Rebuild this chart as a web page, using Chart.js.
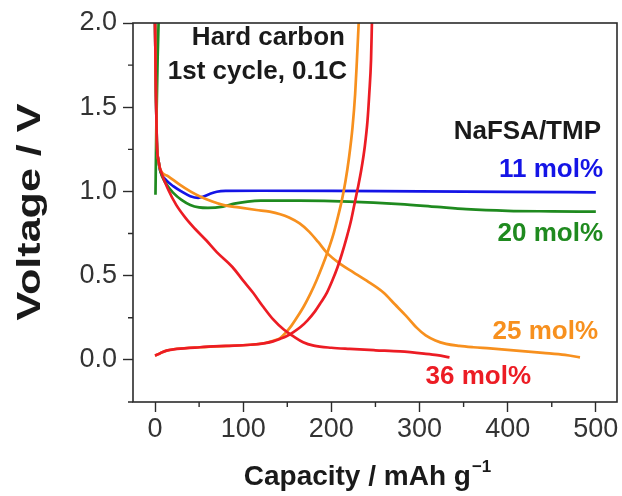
<!DOCTYPE html>
<html><head><meta charset="utf-8">
<script src="https://cdn.jsdelivr.net/npm/chart.js@4.4.1/dist/chart.umd.min.js"></script>
<style>html,body{margin:0;padding:0;background:#fff}canvas{display:block}</style>
</head><body>
<canvas id="c" width="622" height="496"></canvas>
<script>
// ---- tick labels ----
const xTicks = [0, 100, 200, 300, 400, 500];
const yTicks = [0.0, 0.5, 1.0, 1.5, 2.0];
const xMinor = [50, 150, 250, 350, 450];
const yMinor = [-0.25, 0.25, 0.75, 1.25, 1.75];

// ---- series: capacity (mAh/g) and voltage (V) ----
// 36 mol% discharge
const cap36Dis = [0, 1, 2, 4, 8, 15, 24, 35, 45, 58, 70, 88, 100, 111, 122, 134, 146, 157, 168, 180, 200, 221, 250, 278, 305, 320, 334];
const v36Dis   = [2.0, 1.6, 1.3, 1.18, 1.10, 1.01, 0.92, 0.84, 0.78, 0.71, 0.64, 0.55, 0.47, 0.40, 0.32, 0.24, 0.18, 0.14, 0.105, 0.085, 0.072, 0.065, 0.057, 0.05, 0.037, 0.028, 0.015];
// 36 mol% charge
const cap36Chg = [0, 6, 13, 25, 51, 80, 108, 125, 134, 142, 149, 157, 165, 173, 181, 188, 195, 201, 207, 212, 217, 222, 226, 230, 234, 238, 241, 243, 245, 246];
const v36Chg   = [0.025, 0.04, 0.055, 0.065, 0.075, 0.083, 0.09, 0.1, 0.11, 0.125, 0.14, 0.165, 0.195, 0.235, 0.285, 0.34, 0.40, 0.47, 0.55, 0.63, 0.72, 0.82, 0.92, 1.02, 1.13, 1.27, 1.42, 1.58, 1.78, 2.0];
// 25 mol% discharge
const cap25Dis = [0, 1, 2, 4, 6, 15, 28, 40, 51, 65, 77, 95, 115, 130, 142, 152, 164, 175, 185, 195, 210, 225, 240, 259, 272, 285, 297, 307, 318, 330, 345, 361, 380, 410, 440, 465, 482];
const v25Dis   = [2.0, 1.6, 1.3, 1.18, 1.13, 1.09, 1.04, 1.0, 0.97, 0.94, 0.92, 0.905, 0.89, 0.88, 0.865, 0.845, 0.81, 0.76, 0.70, 0.635, 0.57, 0.52, 0.47, 0.40, 0.33, 0.26, 0.19, 0.145, 0.115, 0.095, 0.083, 0.075, 0.068, 0.055, 0.042, 0.03, 0.015];
// 25 mol% charge
const cap25Chg = [0, 13, 51, 108, 125, 135, 142, 148, 155, 162, 169, 176, 183, 190, 196, 202, 207, 212, 216, 220, 224, 227, 229, 231];
const v25Chg   = [0.025, 0.055, 0.075, 0.09, 0.1, 0.115, 0.13, 0.16, 0.205, 0.26, 0.32, 0.39, 0.47, 0.56, 0.645, 0.74, 0.84, 0.95, 1.06, 1.2, 1.38, 1.58, 1.78, 2.0];
// 20 mol% discharge
const cap20Dis = [0, 1, 2, 4, 6, 12, 21, 30, 40, 50, 60, 77, 90, 105, 120, 164, 220, 278, 320, 353, 400, 450, 500];
const v20Dis   = [2.0, 1.6, 1.3, 1.18, 1.12, 1.05, 0.99, 0.95, 0.92, 0.905, 0.902, 0.91, 0.928, 0.94, 0.945, 0.945, 0.94, 0.925, 0.908, 0.895, 0.885, 0.882, 0.88];
// 20 mol% charge
const cap20Chg = [0.5, 1.5, 3, 4];
const v20Chg   = [0.98, 1.4, 1.8, 2.0];
// 11 mol% discharge
const cap11Dis = [0, 1, 2, 4, 6, 12, 21, 30, 40, 49, 55, 62, 70, 80, 120, 200, 300, 400, 500];
const v11Dis   = [2.0, 1.6, 1.3, 1.18, 1.12, 1.07, 1.03, 1.0, 0.972, 0.962, 0.97, 0.985, 0.998, 1.003, 1.004, 1.003, 1.0, 0.998, 0.995];

const seriesNames = ['11 mol%', '20 mol%', '25 mol%', '36 mol%'];
const seriesColors = ['#1414e6', '#1f8a1f', '#f7901e', '#ec1c24'];

const pts = (xs, ys) => xs.map((x, i) => ({x: x, y: ys[i]}));
function ds(label, xs, ys, color, order) {
  return {label, data: pts(xs, ys), borderColor: color, backgroundColor: color,
    borderWidth: 2.7, pointRadius: 0, fill: false, cubicInterpolationMode: 'monotone', order};
}

const FONT = "'Liberation Sans', Arial, sans-serif";
Chart.defaults.font.family = FONT;

const decor = {
  id: 'decor',
  afterDraw(chart) {
    const ctx = chart.ctx, a = chart.chartArea, xs = chart.scales.x, ys = chart.scales.y;
    ctx.save();
    ctx.strokeStyle = '#2b2b2b';
    ctx.lineWidth = 1.6;
    ctx.strokeRect(a.left, a.top, a.right - a.left, a.bottom - a.top);
    ctx.lineWidth = 1.4;
    ctx.beginPath();
    xMinor.forEach(v => { const p = xs.getPixelForValue(v); ctx.moveTo(p, a.bottom); ctx.lineTo(p, a.bottom + 5); });
    yMinor.forEach(v => { const p = ys.getPixelForValue(v); ctx.moveTo(a.left, p); ctx.lineTo(a.left - 5, p); });
    ctx.stroke();

    ctx.textBaseline = 'middle';
    ctx.textAlign = 'right';
    ctx.font = 'bold 26px ' + FONT;
    ctx.fillStyle = '#1a1a1a';
    ctx.fillText('Hard carbon', 345, 38);
    ctx.fillText('1st cycle, 0.1C', 347, 72);
    ctx.fillText('NaFSA/TMP', 601, 132);
    ctx.fillStyle = seriesColors[0]; ctx.fillText(seriesNames[0], 603, 170);
    ctx.fillStyle = seriesColors[1]; ctx.fillText(seriesNames[1], 603, 234);
    ctx.fillStyle = seriesColors[2]; ctx.fillText(seriesNames[2], 598, 332);
    ctx.fillStyle = seriesColors[3]; ctx.fillText(seriesNames[3], 531, 377);

    // axis titles
    ctx.fillStyle = '#1a1a1a';
    ctx.textBaseline = 'alphabetic';
    ctx.textAlign = 'left';
    ctx.font = 'bold 28px ' + FONT;
    const main = 'Capacity / mAh g';
    const w1 = ctx.measureText(main).width;
    ctx.font = 'bold 17px ' + FONT;
    const sup = '\u22121';
    const w2 = ctx.measureText(sup).width;
    const cx = (a.left + a.right) / 2 - 8;
    const x0 = cx - (w1 + w2) / 2;
    ctx.font = 'bold 28px ' + FONT;
    ctx.fillText(main, x0, 485);
    ctx.font = 'bold 17px ' + FONT;
    ctx.fillText(sup, x0 + w1 + 1, 472);

    ctx.translate(40, 212);
    ctx.rotate(-Math.PI / 2);
    ctx.textAlign = 'center';
    ctx.font = 'bold 33px ' + FONT;
    const wv = ctx.measureText('Voltage / V').width;
    ctx.scale(217 / wv, 1);
    ctx.fillText('Voltage / V', 0, 0);
    ctx.restore();
  }
};

new Chart(document.getElementById('c'), {
  type: 'line',
  data: {
    datasets: [
      ds(seriesNames[3] + ' discharge', cap36Dis, v36Dis, seriesColors[3], 0),
      ds(seriesNames[3] + ' charge', cap36Chg, v36Chg, seriesColors[3], 1),
      ds(seriesNames[2] + ' discharge', cap25Dis, v25Dis, seriesColors[2], 2),
      ds(seriesNames[2] + ' charge', cap25Chg, v25Chg, seriesColors[2], 3),
      ds(seriesNames[1] + ' discharge', cap20Dis, v20Dis, seriesColors[1], 4),
      ds(seriesNames[1] + ' charge', cap20Chg, v20Chg, seriesColors[1], 5),
      ds(seriesNames[0] + ' discharge', cap11Dis, v11Dis, seriesColors[0], 6)
    ]
  },
  options: {
    responsive: false,
    animation: false,
    devicePixelRatio: 1,
    layout: {padding: {top: 23, right: 5, left: 0, bottom: 0}},
    plugins: {legend: {display: false}, tooltip: {enabled: false}, title: {display: false}},
    scales: {
      x: {
        type: 'linear', min: -25, max: 524,
        afterFit: s => { s.height = 94; },
        afterBuildTicks: s => { s.ticks = xTicks.map(v => ({value: v})); },
        border: {display: false},
        grid: {drawOnChartArea: false, drawTicks: true, tickLength: 10, tickColor: '#2b2b2b', tickWidth: 1.4},
        ticks: {color: '#333', font: {size: 27}, padding: 1, maxRotation: 0, autoSkip: false,
          callback: v => String(v)}
      },
      y: {
        type: 'linear', min: -0.25, max: 2.0,
        afterFit: s => { s.width = 133; },
        afterBuildTicks: s => { s.ticks = yTicks.map(v => ({value: v})); },
        border: {display: false},
        grid: {drawOnChartArea: false, drawTicks: true, tickLength: 10, tickColor: '#2b2b2b', tickWidth: 1.4},
        ticks: {color: '#333', font: {size: 27}, padding: 6, autoSkip: false,
          callback: v => Number(v).toFixed(1)}
      }
    }
  },
  plugins: [decor]
});
</script>
</body></html>
